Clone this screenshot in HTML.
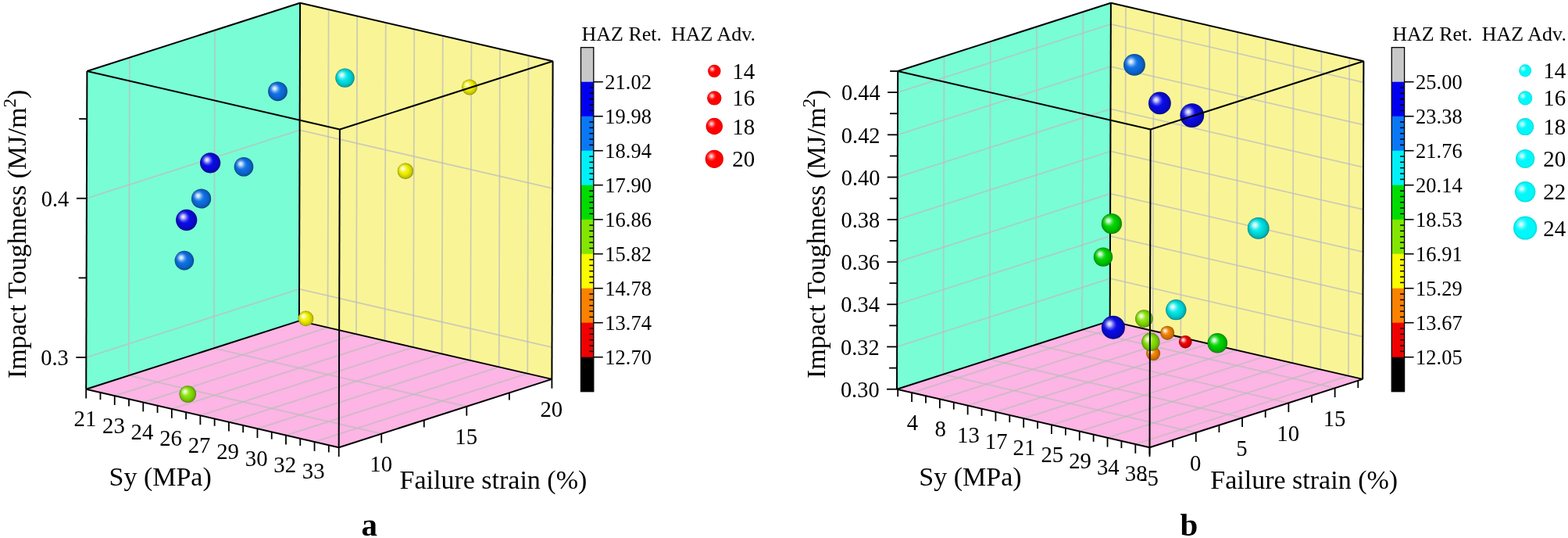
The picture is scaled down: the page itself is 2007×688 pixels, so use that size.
<!DOCTYPE html>
<html><head><meta charset="utf-8"><title>Figure</title>
<style>html,body{margin:0;padding:0;background:#fff;}svg{display:block;}</style>
</head><body>
<svg width="2007" height="688" viewBox="0 0 2007 688" font-family="'Liberation Serif','Times New Roman',serif"><defs><radialGradient id="g_blue" cx="0.5" cy="0.5" r="0.5" fx="0.34" fy="0.34"><stop offset="0" stop-color="#7878f2"/><stop offset="0.25" stop-color="#3636ec"/><stop offset="0.5" stop-color="#0a0ae8"/><stop offset="0.76" stop-color="#0909cc"/><stop offset="0.93" stop-color="#0707ac"/><stop offset="1" stop-color="#050574"/></radialGradient><radialGradient id="g_mblue" cx="0.5" cy="0.5" r="0.5" fx="0.34" fy="0.34"><stop offset="0" stop-color="#79b0f0"/><stop offset="0.25" stop-color="#388ae9"/><stop offset="0.5" stop-color="#0c70e4"/><stop offset="0.76" stop-color="#0b63c9"/><stop offset="0.93" stop-color="#0953a9"/><stop offset="1" stop-color="#063872"/></radialGradient><radialGradient id="g_cyan" cx="0.5" cy="0.5" r="0.5" fx="0.34" fy="0.34"><stop offset="0" stop-color="#73f0f1"/><stop offset="0.25" stop-color="#2ee9eb"/><stop offset="0.5" stop-color="#00e4e6"/><stop offset="0.76" stop-color="#00c9ca"/><stop offset="0.93" stop-color="#00a9aa"/><stop offset="1" stop-color="#007273"/></radialGradient><radialGradient id="g_green" cx="0.5" cy="0.5" r="0.5" fx="0.34" fy="0.34"><stop offset="0" stop-color="#73e773"/><stop offset="0.25" stop-color="#2edc2e"/><stop offset="0.5" stop-color="#00d400"/><stop offset="0.76" stop-color="#00bb00"/><stop offset="0.93" stop-color="#009d00"/><stop offset="1" stop-color="#006a00"/></radialGradient><radialGradient id="g_ygreen" cx="0.5" cy="0.5" r="0.5" fx="0.34" fy="0.34"><stop offset="0" stop-color="#bdef76"/><stop offset="0.25" stop-color="#9de732"/><stop offset="0.5" stop-color="#87e205"/><stop offset="0.76" stop-color="#77c704"/><stop offset="0.93" stop-color="#64a704"/><stop offset="1" stop-color="#447102"/></radialGradient><radialGradient id="g_yellow" cx="0.5" cy="0.5" r="0.5" fx="0.34" fy="0.34"><stop offset="0" stop-color="#f7f773"/><stop offset="0.25" stop-color="#f3f32e"/><stop offset="0.5" stop-color="#f0f000"/><stop offset="0.76" stop-color="#d3d300"/><stop offset="0.93" stop-color="#b2b200"/><stop offset="1" stop-color="#787800"/></radialGradient><radialGradient id="g_orange" cx="0.5" cy="0.5" r="0.5" fx="0.34" fy="0.34"><stop offset="0" stop-color="#f6b973"/><stop offset="0.25" stop-color="#f1972e"/><stop offset="0.5" stop-color="#ee8000"/><stop offset="0.76" stop-color="#d17100"/><stop offset="0.93" stop-color="#b05f00"/><stop offset="1" stop-color="#774000"/></radialGradient><radialGradient id="g_red" cx="0.5" cy="0.5" r="0.5" fx="0.34" fy="0.34"><stop offset="0" stop-color="#f77373"/><stop offset="0.25" stop-color="#f32e2e"/><stop offset="0.5" stop-color="#f00000"/><stop offset="0.76" stop-color="#d30000"/><stop offset="0.93" stop-color="#b20000"/><stop offset="1" stop-color="#780000"/></radialGradient><radialGradient id="g_lred" cx="0.5" cy="0.5" r="0.5"><stop offset="0" stop-color="#ff0000"/><stop offset="0.8" stop-color="#ff0000"/><stop offset="1" stop-color="#e00000"/></radialGradient><radialGradient id="g_lcyan" cx="0.5" cy="0.5" r="0.5"><stop offset="0" stop-color="#00f8fa"/><stop offset="0.8" stop-color="#00f8fa"/><stop offset="1" stop-color="#00dadc"/></radialGradient><radialGradient id="spec" cx="0.5" cy="0.5" r="0.5"><stop offset="0" stop-color="#fff" stop-opacity="0.92"/><stop offset="0.3" stop-color="#fff" stop-opacity="0.62"/><stop offset="0.65" stop-color="#fff" stop-opacity="0.2"/><stop offset="1" stop-color="#fff" stop-opacity="0"/></radialGradient></defs><rect width="2007" height="688" fill="#fff"/><polygon points="110.2,497.7 382.9,410.4 384.1,3.7 111.4,91" fill="#79fdd5"/>
<polygon points="382.9,410.4 706.4,484.9 707.6,78.2 384.1,3.7" fill="#f9f597"/>
<polygon points="110.2,497.7 382.9,410.4 706.4,484.9 433.7,572.2" fill="#fcb5e4"/>
<line x1="164.74" y1="480.24" x2="165.94" y2="73.54" stroke="#bcbcbc" stroke-width="1.8" stroke-linecap="butt" stroke-opacity="0.72"/>
<line x1="164.74" y1="480.24" x2="488.24" y2="554.74" stroke="#bcbcbc" stroke-width="1.8" stroke-linecap="butt" stroke-opacity="0.72"/>
<line x1="273.82" y1="445.32" x2="275.02" y2="38.62" stroke="#bcbcbc" stroke-width="1.8" stroke-linecap="butt" stroke-opacity="0.72"/>
<line x1="273.82" y1="445.32" x2="597.32" y2="519.82" stroke="#bcbcbc" stroke-width="1.8" stroke-linecap="butt" stroke-opacity="0.72"/>
<line x1="110.32" y1="457.03" x2="383.02" y2="369.73" stroke="#bcbcbc" stroke-width="1.8" stroke-linecap="butt" stroke-opacity="0.72"/>
<line x1="383.02" y1="369.73" x2="706.52" y2="444.23" stroke="#bcbcbc" stroke-width="1.8" stroke-linecap="butt" stroke-opacity="0.72"/>
<line x1="110.92" y1="253.68" x2="383.62" y2="166.38" stroke="#bcbcbc" stroke-width="1.8" stroke-linecap="butt" stroke-opacity="0.72"/>
<line x1="383.62" y1="166.38" x2="707.12" y2="240.88" stroke="#bcbcbc" stroke-width="1.8" stroke-linecap="butt" stroke-opacity="0.72"/>
<line x1="419.44" y1="418.82" x2="420.64" y2="12.12" stroke="#bcbcbc" stroke-width="1.8" stroke-linecap="butt" stroke-opacity="0.72"/>
<line x1="146.74" y1="506.12" x2="419.44" y2="418.82" stroke="#bcbcbc" stroke-width="1.8" stroke-linecap="butt" stroke-opacity="0.72"/>
<line x1="455.99" y1="427.23" x2="457.19" y2="20.53" stroke="#bcbcbc" stroke-width="1.8" stroke-linecap="butt" stroke-opacity="0.72"/>
<line x1="183.29" y1="514.53" x2="455.99" y2="427.23" stroke="#bcbcbc" stroke-width="1.8" stroke-linecap="butt" stroke-opacity="0.72"/>
<line x1="492.53" y1="435.65" x2="493.73" y2="28.95" stroke="#bcbcbc" stroke-width="1.8" stroke-linecap="butt" stroke-opacity="0.72"/>
<line x1="219.83" y1="522.95" x2="492.53" y2="435.65" stroke="#bcbcbc" stroke-width="1.8" stroke-linecap="butt" stroke-opacity="0.72"/>
<line x1="529.07" y1="444.06" x2="530.27" y2="37.36" stroke="#bcbcbc" stroke-width="1.8" stroke-linecap="butt" stroke-opacity="0.72"/>
<line x1="256.37" y1="531.36" x2="529.07" y2="444.06" stroke="#bcbcbc" stroke-width="1.8" stroke-linecap="butt" stroke-opacity="0.72"/>
<line x1="565.61" y1="452.48" x2="566.81" y2="45.78" stroke="#bcbcbc" stroke-width="1.8" stroke-linecap="butt" stroke-opacity="0.72"/>
<line x1="292.91" y1="539.78" x2="565.61" y2="452.48" stroke="#bcbcbc" stroke-width="1.8" stroke-linecap="butt" stroke-opacity="0.72"/>
<line x1="602.16" y1="460.89" x2="603.36" y2="54.19" stroke="#bcbcbc" stroke-width="1.8" stroke-linecap="butt" stroke-opacity="0.72"/>
<line x1="329.46" y1="548.19" x2="602.16" y2="460.89" stroke="#bcbcbc" stroke-width="1.8" stroke-linecap="butt" stroke-opacity="0.72"/>
<line x1="638.7" y1="469.31" x2="639.9" y2="62.61" stroke="#bcbcbc" stroke-width="1.8" stroke-linecap="butt" stroke-opacity="0.72"/>
<line x1="366" y1="556.61" x2="638.7" y2="469.31" stroke="#bcbcbc" stroke-width="1.8" stroke-linecap="butt" stroke-opacity="0.72"/>
<line x1="675.24" y1="477.72" x2="676.44" y2="71.02" stroke="#bcbcbc" stroke-width="1.8" stroke-linecap="butt" stroke-opacity="0.72"/>
<line x1="402.54" y1="565.02" x2="675.24" y2="477.72" stroke="#bcbcbc" stroke-width="1.8" stroke-linecap="butt" stroke-opacity="0.72"/>
<line x1="110.2" y1="497.7" x2="382.9" y2="410.4" stroke="#000" stroke-width="2" stroke-linecap="butt"/>
<line x1="382.9" y1="410.4" x2="706.4" y2="484.9" stroke="#000" stroke-width="2" stroke-linecap="butt"/>
<line x1="382.9" y1="410.4" x2="384.1" y2="3.7" stroke="#000" stroke-width="2" stroke-linecap="butt"/>
<line x1="111.4" y1="91" x2="384.1" y2="3.7" stroke="#000" stroke-width="2" stroke-linecap="butt"/>
<line x1="384.1" y1="3.7" x2="707.6" y2="78.2" stroke="#000" stroke-width="2" stroke-linecap="butt"/>
<line x1="706.4" y1="484.9" x2="707.6" y2="78.2" stroke="#000" stroke-width="2" stroke-linecap="butt"/>
<circle cx="355.5" cy="116.8" r="12.4" fill="url(#g_mblue)"/>
<circle cx="351.41" cy="113.08" r="7.19" fill="url(#spec)"/>
<circle cx="441.5" cy="99.6" r="12.2" fill="url(#g_cyan)"/>
<circle cx="437.47" cy="95.94" r="7.08" fill="url(#spec)"/>
<circle cx="601" cy="111.4" r="10" fill="url(#g_yellow)"/>
<circle cx="597.7" cy="108.4" r="5.8" fill="url(#spec)"/>
<circle cx="269.1" cy="208.3" r="13.1" fill="url(#g_blue)"/>
<circle cx="264.78" cy="204.37" r="7.6" fill="url(#spec)"/>
<circle cx="312" cy="213.2" r="12.3" fill="url(#g_mblue)"/>
<circle cx="307.94" cy="209.51" r="7.13" fill="url(#spec)"/>
<circle cx="519" cy="218.7" r="10.2" fill="url(#g_yellow)"/>
<circle cx="515.63" cy="215.64" r="5.92" fill="url(#spec)"/>
<circle cx="257.6" cy="254" r="12.6" fill="url(#g_mblue)"/>
<circle cx="253.44" cy="250.22" r="7.31" fill="url(#spec)"/>
<circle cx="238.7" cy="281.3" r="13.6" fill="url(#g_blue)"/>
<circle cx="234.21" cy="277.22" r="7.89" fill="url(#spec)"/>
<circle cx="235.9" cy="333.1" r="12.3" fill="url(#g_mblue)"/>
<circle cx="231.84" cy="329.41" r="7.13" fill="url(#spec)"/>
<circle cx="391.5" cy="407.4" r="9.8" fill="url(#g_yellow)"/>
<circle cx="388.27" cy="404.46" r="5.68" fill="url(#spec)"/>
<circle cx="240.3" cy="504" r="10.8" fill="url(#g_ygreen)"/>
<circle cx="236.74" cy="500.76" r="6.26" fill="url(#spec)"/>
<line x1="110.2" y1="497.7" x2="111.4" y2="91" stroke="#000" stroke-width="2" stroke-linecap="butt"/>
<line x1="111.4" y1="91" x2="434.9" y2="165.5" stroke="#000" stroke-width="2" stroke-linecap="butt"/>
<line x1="434.9" y1="165.5" x2="707.6" y2="78.2" stroke="#000" stroke-width="2" stroke-linecap="butt"/>
<line x1="433.7" y1="572.2" x2="434.9" y2="165.5" stroke="#000" stroke-width="2" stroke-linecap="butt"/>
<line x1="110.2" y1="497.7" x2="433.7" y2="572.2" stroke="#000" stroke-width="2" stroke-linecap="butt"/>
<line x1="433.7" y1="572.2" x2="706.4" y2="484.9" stroke="#000" stroke-width="2" stroke-linecap="butt"/>
<line x1="97.32" y1="457.03" x2="110.32" y2="457.03" stroke="#000" stroke-width="1.8" stroke-linecap="butt"/>
<text transform="translate(87.72,467.23) scale(1,1.07)" font-size="28.4" text-anchor="end">0.3</text>
<line x1="100.62" y1="355.36" x2="110.62" y2="355.36" stroke="#000" stroke-width="1.8" stroke-linecap="butt"/>
<line x1="97.92" y1="253.68" x2="110.92" y2="253.68" stroke="#000" stroke-width="1.8" stroke-linecap="butt"/>
<text transform="translate(88.32,263.88) scale(1,1.07)" font-size="28.4" text-anchor="end">0.4</text>
<line x1="101.22" y1="152" x2="111.22" y2="152" stroke="#000" stroke-width="1.8" stroke-linecap="butt"/>
<line x1="110.2" y1="497.7" x2="110.2" y2="509.5" stroke="#000" stroke-width="1.8" stroke-linecap="butt"/>
<text transform="translate(108.9,545.1) scale(1,1.05)" font-size="28.8" text-anchor="middle">21</text>
<line x1="128.47" y1="501.91" x2="128.47" y2="511.11" stroke="#000" stroke-width="1.8" stroke-linecap="butt"/>
<line x1="146.74" y1="506.12" x2="146.74" y2="517.92" stroke="#000" stroke-width="1.8" stroke-linecap="butt"/>
<text transform="translate(145.44,553.52) scale(1,1.05)" font-size="28.8" text-anchor="middle">23</text>
<line x1="165.01" y1="510.32" x2="165.01" y2="519.52" stroke="#000" stroke-width="1.8" stroke-linecap="butt"/>
<line x1="183.29" y1="514.53" x2="183.29" y2="526.33" stroke="#000" stroke-width="1.8" stroke-linecap="butt"/>
<text transform="translate(181.99,561.93) scale(1,1.05)" font-size="28.8" text-anchor="middle">24</text>
<line x1="201.56" y1="518.74" x2="201.56" y2="527.94" stroke="#000" stroke-width="1.8" stroke-linecap="butt"/>
<line x1="219.83" y1="522.95" x2="219.83" y2="534.75" stroke="#000" stroke-width="1.8" stroke-linecap="butt"/>
<text transform="translate(218.53,570.35) scale(1,1.05)" font-size="28.8" text-anchor="middle">26</text>
<line x1="238.1" y1="527.15" x2="238.1" y2="536.35" stroke="#000" stroke-width="1.8" stroke-linecap="butt"/>
<line x1="256.37" y1="531.36" x2="256.37" y2="543.16" stroke="#000" stroke-width="1.8" stroke-linecap="butt"/>
<text transform="translate(255.07,578.76) scale(1,1.05)" font-size="28.8" text-anchor="middle">27</text>
<line x1="274.64" y1="535.57" x2="274.64" y2="544.77" stroke="#000" stroke-width="1.8" stroke-linecap="butt"/>
<line x1="292.91" y1="539.78" x2="292.91" y2="551.58" stroke="#000" stroke-width="1.8" stroke-linecap="butt"/>
<text transform="translate(291.61,587.18) scale(1,1.05)" font-size="28.8" text-anchor="middle">29</text>
<line x1="311.18" y1="543.99" x2="311.18" y2="553.19" stroke="#000" stroke-width="1.8" stroke-linecap="butt"/>
<line x1="329.46" y1="548.19" x2="329.46" y2="559.99" stroke="#000" stroke-width="1.8" stroke-linecap="butt"/>
<text transform="translate(328.16,595.59) scale(1,1.05)" font-size="28.8" text-anchor="middle">30</text>
<line x1="347.73" y1="552.4" x2="347.73" y2="561.6" stroke="#000" stroke-width="1.8" stroke-linecap="butt"/>
<line x1="366" y1="556.61" x2="366" y2="568.41" stroke="#000" stroke-width="1.8" stroke-linecap="butt"/>
<text transform="translate(364.7,604.01) scale(1,1.05)" font-size="28.8" text-anchor="middle">32</text>
<line x1="384.27" y1="560.82" x2="384.27" y2="570.02" stroke="#000" stroke-width="1.8" stroke-linecap="butt"/>
<line x1="402.54" y1="565.02" x2="402.54" y2="576.82" stroke="#000" stroke-width="1.8" stroke-linecap="butt"/>
<text transform="translate(401.24,612.42) scale(1,1.05)" font-size="28.8" text-anchor="middle">33</text>
<line x1="420.81" y1="569.23" x2="420.81" y2="578.43" stroke="#000" stroke-width="1.8" stroke-linecap="butt"/>
<line x1="433.7" y1="572.2" x2="433.7" y2="584" stroke="#000" stroke-width="1.8" stroke-linecap="butt"/>
<line x1="488.24" y1="554.74" x2="488.24" y2="566.54" stroke="#000" stroke-width="1.8" stroke-linecap="butt"/>
<text transform="translate(487.64,603.14) scale(1,1.05)" font-size="28.8" text-anchor="middle">10</text>
<line x1="542.78" y1="537.28" x2="542.78" y2="546.48" stroke="#000" stroke-width="1.8" stroke-linecap="butt"/>
<line x1="597.32" y1="519.82" x2="597.32" y2="531.62" stroke="#000" stroke-width="1.8" stroke-linecap="butt"/>
<text transform="translate(596.72,568.22) scale(1,1.05)" font-size="28.8" text-anchor="middle">15</text>
<line x1="651.86" y1="502.36" x2="651.86" y2="511.56" stroke="#000" stroke-width="1.8" stroke-linecap="butt"/>
<line x1="706.4" y1="484.9" x2="706.4" y2="496.7" stroke="#000" stroke-width="1.8" stroke-linecap="butt"/>
<text transform="translate(705.8,533.3) scale(1,1.05)" font-size="28.8" text-anchor="middle">20</text>
<text transform="translate(33.3,484) rotate(-90)" font-size="34">Impact Toughness (MJ/m<tspan font-size="23" dy="-13">2</tspan><tspan dy="13">)</tspan></text>
<text x="139.5" y="621" font-size="34" text-anchor="start">Sy (MPa)</text>
<text x="511.5" y="624.7" font-size="34" text-anchor="start">Failure strain (%)</text>
<text x="462.5" y="685" font-size="41" text-anchor="start" font-weight="bold">a</text>
<rect x="743.5" y="60.7" width="16.3" height="44.3" fill="#c8c8c8"/>
<rect x="743.5" y="104.7" width="16.3" height="44.3" fill="#0000f0"/>
<rect x="743.5" y="148.7" width="16.3" height="44.3" fill="#0a78f5"/>
<rect x="743.5" y="192.7" width="16.3" height="44.3" fill="#00f0f8"/>
<rect x="743.5" y="236.7" width="16.3" height="44.3" fill="#00dc00"/>
<rect x="743.5" y="280.7" width="16.3" height="44.3" fill="#82e600"/>
<rect x="743.5" y="324.7" width="16.3" height="44.3" fill="#fafa00"/>
<rect x="743.5" y="368.7" width="16.3" height="44.3" fill="#fa8200"/>
<rect x="743.5" y="412.7" width="16.3" height="44.3" fill="#f00000"/>
<rect x="743.5" y="456.7" width="16.3" height="44.3" fill="#000000"/>
<rect x="743.5" y="60.7" width="16.3" height="440" fill="none" stroke="#000" stroke-width="1.3"/>
<line x1="759.8" y1="104.7" x2="771.8" y2="104.7" stroke="#000" stroke-width="1.6" stroke-linecap="butt"/>
<text x="774.3" y="113.7" font-size="26.5" text-anchor="start">21.02</text>
<line x1="754.3" y1="112.03" x2="759.8" y2="112.03" stroke="#000" stroke-width="1.5" stroke-linecap="butt"/>
<line x1="754.3" y1="119.37" x2="759.8" y2="119.37" stroke="#000" stroke-width="1.5" stroke-linecap="butt"/>
<line x1="754.3" y1="126.7" x2="759.8" y2="126.7" stroke="#000" stroke-width="1.5" stroke-linecap="butt"/>
<line x1="754.3" y1="134.03" x2="759.8" y2="134.03" stroke="#000" stroke-width="1.5" stroke-linecap="butt"/>
<line x1="754.3" y1="141.37" x2="759.8" y2="141.37" stroke="#000" stroke-width="1.5" stroke-linecap="butt"/>
<line x1="759.8" y1="148.7" x2="771.8" y2="148.7" stroke="#000" stroke-width="1.6" stroke-linecap="butt"/>
<text x="774.3" y="157.7" font-size="26.5" text-anchor="start">19.98</text>
<line x1="754.3" y1="156.03" x2="759.8" y2="156.03" stroke="#000" stroke-width="1.5" stroke-linecap="butt"/>
<line x1="754.3" y1="163.37" x2="759.8" y2="163.37" stroke="#000" stroke-width="1.5" stroke-linecap="butt"/>
<line x1="754.3" y1="170.7" x2="759.8" y2="170.7" stroke="#000" stroke-width="1.5" stroke-linecap="butt"/>
<line x1="754.3" y1="178.03" x2="759.8" y2="178.03" stroke="#000" stroke-width="1.5" stroke-linecap="butt"/>
<line x1="754.3" y1="185.37" x2="759.8" y2="185.37" stroke="#000" stroke-width="1.5" stroke-linecap="butt"/>
<line x1="759.8" y1="192.7" x2="771.8" y2="192.7" stroke="#000" stroke-width="1.6" stroke-linecap="butt"/>
<text x="774.3" y="201.7" font-size="26.5" text-anchor="start">18.94</text>
<line x1="754.3" y1="200.03" x2="759.8" y2="200.03" stroke="#000" stroke-width="1.5" stroke-linecap="butt"/>
<line x1="754.3" y1="207.37" x2="759.8" y2="207.37" stroke="#000" stroke-width="1.5" stroke-linecap="butt"/>
<line x1="754.3" y1="214.7" x2="759.8" y2="214.7" stroke="#000" stroke-width="1.5" stroke-linecap="butt"/>
<line x1="754.3" y1="222.03" x2="759.8" y2="222.03" stroke="#000" stroke-width="1.5" stroke-linecap="butt"/>
<line x1="754.3" y1="229.37" x2="759.8" y2="229.37" stroke="#000" stroke-width="1.5" stroke-linecap="butt"/>
<line x1="759.8" y1="236.7" x2="771.8" y2="236.7" stroke="#000" stroke-width="1.6" stroke-linecap="butt"/>
<text x="774.3" y="245.7" font-size="26.5" text-anchor="start">17.90</text>
<line x1="754.3" y1="244.03" x2="759.8" y2="244.03" stroke="#000" stroke-width="1.5" stroke-linecap="butt"/>
<line x1="754.3" y1="251.37" x2="759.8" y2="251.37" stroke="#000" stroke-width="1.5" stroke-linecap="butt"/>
<line x1="754.3" y1="258.7" x2="759.8" y2="258.7" stroke="#000" stroke-width="1.5" stroke-linecap="butt"/>
<line x1="754.3" y1="266.03" x2="759.8" y2="266.03" stroke="#000" stroke-width="1.5" stroke-linecap="butt"/>
<line x1="754.3" y1="273.37" x2="759.8" y2="273.37" stroke="#000" stroke-width="1.5" stroke-linecap="butt"/>
<line x1="759.8" y1="280.7" x2="771.8" y2="280.7" stroke="#000" stroke-width="1.6" stroke-linecap="butt"/>
<text x="774.3" y="289.7" font-size="26.5" text-anchor="start">16.86</text>
<line x1="754.3" y1="288.03" x2="759.8" y2="288.03" stroke="#000" stroke-width="1.5" stroke-linecap="butt"/>
<line x1="754.3" y1="295.37" x2="759.8" y2="295.37" stroke="#000" stroke-width="1.5" stroke-linecap="butt"/>
<line x1="754.3" y1="302.7" x2="759.8" y2="302.7" stroke="#000" stroke-width="1.5" stroke-linecap="butt"/>
<line x1="754.3" y1="310.03" x2="759.8" y2="310.03" stroke="#000" stroke-width="1.5" stroke-linecap="butt"/>
<line x1="754.3" y1="317.37" x2="759.8" y2="317.37" stroke="#000" stroke-width="1.5" stroke-linecap="butt"/>
<line x1="759.8" y1="324.7" x2="771.8" y2="324.7" stroke="#000" stroke-width="1.6" stroke-linecap="butt"/>
<text x="774.3" y="333.7" font-size="26.5" text-anchor="start">15.82</text>
<line x1="754.3" y1="332.03" x2="759.8" y2="332.03" stroke="#000" stroke-width="1.5" stroke-linecap="butt"/>
<line x1="754.3" y1="339.37" x2="759.8" y2="339.37" stroke="#000" stroke-width="1.5" stroke-linecap="butt"/>
<line x1="754.3" y1="346.7" x2="759.8" y2="346.7" stroke="#000" stroke-width="1.5" stroke-linecap="butt"/>
<line x1="754.3" y1="354.03" x2="759.8" y2="354.03" stroke="#000" stroke-width="1.5" stroke-linecap="butt"/>
<line x1="754.3" y1="361.37" x2="759.8" y2="361.37" stroke="#000" stroke-width="1.5" stroke-linecap="butt"/>
<line x1="759.8" y1="368.7" x2="771.8" y2="368.7" stroke="#000" stroke-width="1.6" stroke-linecap="butt"/>
<text x="774.3" y="377.7" font-size="26.5" text-anchor="start">14.78</text>
<line x1="754.3" y1="376.03" x2="759.8" y2="376.03" stroke="#000" stroke-width="1.5" stroke-linecap="butt"/>
<line x1="754.3" y1="383.37" x2="759.8" y2="383.37" stroke="#000" stroke-width="1.5" stroke-linecap="butt"/>
<line x1="754.3" y1="390.7" x2="759.8" y2="390.7" stroke="#000" stroke-width="1.5" stroke-linecap="butt"/>
<line x1="754.3" y1="398.03" x2="759.8" y2="398.03" stroke="#000" stroke-width="1.5" stroke-linecap="butt"/>
<line x1="754.3" y1="405.37" x2="759.8" y2="405.37" stroke="#000" stroke-width="1.5" stroke-linecap="butt"/>
<line x1="759.8" y1="412.7" x2="771.8" y2="412.7" stroke="#000" stroke-width="1.6" stroke-linecap="butt"/>
<text x="774.3" y="421.7" font-size="26.5" text-anchor="start">13.74</text>
<line x1="754.3" y1="420.03" x2="759.8" y2="420.03" stroke="#000" stroke-width="1.5" stroke-linecap="butt"/>
<line x1="754.3" y1="427.37" x2="759.8" y2="427.37" stroke="#000" stroke-width="1.5" stroke-linecap="butt"/>
<line x1="754.3" y1="434.7" x2="759.8" y2="434.7" stroke="#000" stroke-width="1.5" stroke-linecap="butt"/>
<line x1="754.3" y1="442.03" x2="759.8" y2="442.03" stroke="#000" stroke-width="1.5" stroke-linecap="butt"/>
<line x1="754.3" y1="449.37" x2="759.8" y2="449.37" stroke="#000" stroke-width="1.5" stroke-linecap="butt"/>
<line x1="759.8" y1="456.7" x2="771.8" y2="456.7" stroke="#000" stroke-width="1.6" stroke-linecap="butt"/>
<text x="774.3" y="465.7" font-size="26.5" text-anchor="start">12.70</text>
<text x="744.5" y="51.6" font-size="26" text-anchor="start">HAZ Ret.</text>
<text x="859" y="51.6" font-size="26" text-anchor="start">HAZ Adv.</text>
<circle cx="914.3" cy="90.9" r="8.2" fill="url(#g_lred)"/>
<circle cx="911.59" cy="88.44" r="4.76" fill="url(#spec)"/>
<text x="937.3" y="100.9" font-size="29" text-anchor="start">14</text>
<circle cx="914.3" cy="125.4" r="9.2" fill="url(#g_lred)"/>
<circle cx="911.26" cy="122.64" r="5.34" fill="url(#spec)"/>
<text x="937.3" y="135.4" font-size="29" text-anchor="start">16</text>
<circle cx="914.3" cy="161.5" r="10.7" fill="url(#g_lred)"/>
<circle cx="910.77" cy="158.29" r="6.21" fill="url(#spec)"/>
<text x="937.3" y="171.5" font-size="29" text-anchor="start">18</text>
<circle cx="914.3" cy="203.3" r="11.6" fill="url(#g_lred)"/>
<circle cx="910.47" cy="199.82" r="6.73" fill="url(#spec)"/>
<text x="937.3" y="213.3" font-size="29" text-anchor="start">20</text>
<polygon points="1148,497.7 1420.7,410.4 1421.9,3.7 1149.2,91" fill="#79fdd5"/>
<polygon points="1420.7,410.4 1744.2,484.9 1745.4,78.2 1421.9,3.7" fill="#f9f597"/>
<polygon points="1148,497.7 1420.7,410.4 1744.2,484.9 1471.5,572.2" fill="#fcb5e4"/>
<line x1="1207.28" y1="478.72" x2="1208.48" y2="72.02" stroke="#bcbcbc" stroke-width="1.8" stroke-linecap="butt" stroke-opacity="0.72"/>
<line x1="1207.28" y1="478.72" x2="1530.78" y2="553.22" stroke="#bcbcbc" stroke-width="1.8" stroke-linecap="butt" stroke-opacity="0.72"/>
<line x1="1266.57" y1="459.74" x2="1267.77" y2="53.04" stroke="#bcbcbc" stroke-width="1.8" stroke-linecap="butt" stroke-opacity="0.72"/>
<line x1="1266.57" y1="459.74" x2="1590.07" y2="534.24" stroke="#bcbcbc" stroke-width="1.8" stroke-linecap="butt" stroke-opacity="0.72"/>
<line x1="1325.85" y1="440.77" x2="1327.05" y2="34.07" stroke="#bcbcbc" stroke-width="1.8" stroke-linecap="butt" stroke-opacity="0.72"/>
<line x1="1325.85" y1="440.77" x2="1649.35" y2="515.27" stroke="#bcbcbc" stroke-width="1.8" stroke-linecap="butt" stroke-opacity="0.72"/>
<line x1="1385.13" y1="421.79" x2="1386.33" y2="15.09" stroke="#bcbcbc" stroke-width="1.8" stroke-linecap="butt" stroke-opacity="0.72"/>
<line x1="1385.13" y1="421.79" x2="1708.63" y2="496.29" stroke="#bcbcbc" stroke-width="1.8" stroke-linecap="butt" stroke-opacity="0.72"/>
<line x1="1148.16" y1="443.47" x2="1420.86" y2="356.17" stroke="#bcbcbc" stroke-width="1.8" stroke-linecap="butt" stroke-opacity="0.72"/>
<line x1="1420.86" y1="356.17" x2="1744.36" y2="430.67" stroke="#bcbcbc" stroke-width="1.8" stroke-linecap="butt" stroke-opacity="0.72"/>
<line x1="1148.32" y1="389.25" x2="1421.02" y2="301.95" stroke="#bcbcbc" stroke-width="1.8" stroke-linecap="butt" stroke-opacity="0.72"/>
<line x1="1421.02" y1="301.95" x2="1744.52" y2="376.45" stroke="#bcbcbc" stroke-width="1.8" stroke-linecap="butt" stroke-opacity="0.72"/>
<line x1="1148.48" y1="335.02" x2="1421.18" y2="247.72" stroke="#bcbcbc" stroke-width="1.8" stroke-linecap="butt" stroke-opacity="0.72"/>
<line x1="1421.18" y1="247.72" x2="1744.68" y2="322.22" stroke="#bcbcbc" stroke-width="1.8" stroke-linecap="butt" stroke-opacity="0.72"/>
<line x1="1148.64" y1="280.79" x2="1421.34" y2="193.49" stroke="#bcbcbc" stroke-width="1.8" stroke-linecap="butt" stroke-opacity="0.72"/>
<line x1="1421.34" y1="193.49" x2="1744.84" y2="267.99" stroke="#bcbcbc" stroke-width="1.8" stroke-linecap="butt" stroke-opacity="0.72"/>
<line x1="1148.8" y1="226.57" x2="1421.5" y2="139.27" stroke="#bcbcbc" stroke-width="1.8" stroke-linecap="butt" stroke-opacity="0.72"/>
<line x1="1421.5" y1="139.27" x2="1745" y2="213.77" stroke="#bcbcbc" stroke-width="1.8" stroke-linecap="butt" stroke-opacity="0.72"/>
<line x1="1148.96" y1="172.34" x2="1421.66" y2="85.04" stroke="#bcbcbc" stroke-width="1.8" stroke-linecap="butt" stroke-opacity="0.72"/>
<line x1="1421.66" y1="85.04" x2="1745.16" y2="159.54" stroke="#bcbcbc" stroke-width="1.8" stroke-linecap="butt" stroke-opacity="0.72"/>
<line x1="1149.12" y1="118.11" x2="1421.82" y2="30.81" stroke="#bcbcbc" stroke-width="1.8" stroke-linecap="butt" stroke-opacity="0.72"/>
<line x1="1421.82" y1="30.81" x2="1745.32" y2="105.31" stroke="#bcbcbc" stroke-width="1.8" stroke-linecap="butt" stroke-opacity="0.72"/>
<line x1="1439.79" y1="414.8" x2="1440.99" y2="8.1" stroke="#bcbcbc" stroke-width="1.8" stroke-linecap="butt" stroke-opacity="0.72"/>
<line x1="1167.09" y1="502.1" x2="1439.79" y2="414.8" stroke="#bcbcbc" stroke-width="1.8" stroke-linecap="butt" stroke-opacity="0.72"/>
<line x1="1475.57" y1="423.04" x2="1476.77" y2="16.34" stroke="#bcbcbc" stroke-width="1.8" stroke-linecap="butt" stroke-opacity="0.72"/>
<line x1="1202.87" y1="510.34" x2="1475.57" y2="423.04" stroke="#bcbcbc" stroke-width="1.8" stroke-linecap="butt" stroke-opacity="0.72"/>
<line x1="1511.34" y1="431.27" x2="1512.54" y2="24.57" stroke="#bcbcbc" stroke-width="1.8" stroke-linecap="butt" stroke-opacity="0.72"/>
<line x1="1238.64" y1="518.57" x2="1511.34" y2="431.27" stroke="#bcbcbc" stroke-width="1.8" stroke-linecap="butt" stroke-opacity="0.72"/>
<line x1="1547.12" y1="439.51" x2="1548.32" y2="32.81" stroke="#bcbcbc" stroke-width="1.8" stroke-linecap="butt" stroke-opacity="0.72"/>
<line x1="1274.42" y1="526.81" x2="1547.12" y2="439.51" stroke="#bcbcbc" stroke-width="1.8" stroke-linecap="butt" stroke-opacity="0.72"/>
<line x1="1582.9" y1="447.75" x2="1584.1" y2="41.05" stroke="#bcbcbc" stroke-width="1.8" stroke-linecap="butt" stroke-opacity="0.72"/>
<line x1="1310.2" y1="535.05" x2="1582.9" y2="447.75" stroke="#bcbcbc" stroke-width="1.8" stroke-linecap="butt" stroke-opacity="0.72"/>
<line x1="1618.68" y1="455.99" x2="1619.88" y2="49.29" stroke="#bcbcbc" stroke-width="1.8" stroke-linecap="butt" stroke-opacity="0.72"/>
<line x1="1345.98" y1="543.29" x2="1618.68" y2="455.99" stroke="#bcbcbc" stroke-width="1.8" stroke-linecap="butt" stroke-opacity="0.72"/>
<line x1="1654.46" y1="464.23" x2="1655.66" y2="57.53" stroke="#bcbcbc" stroke-width="1.8" stroke-linecap="butt" stroke-opacity="0.72"/>
<line x1="1381.76" y1="551.53" x2="1654.46" y2="464.23" stroke="#bcbcbc" stroke-width="1.8" stroke-linecap="butt" stroke-opacity="0.72"/>
<line x1="1690.24" y1="472.47" x2="1691.44" y2="65.77" stroke="#bcbcbc" stroke-width="1.8" stroke-linecap="butt" stroke-opacity="0.72"/>
<line x1="1417.54" y1="559.77" x2="1690.24" y2="472.47" stroke="#bcbcbc" stroke-width="1.8" stroke-linecap="butt" stroke-opacity="0.72"/>
<line x1="1726.02" y1="480.71" x2="1727.22" y2="74.01" stroke="#bcbcbc" stroke-width="1.8" stroke-linecap="butt" stroke-opacity="0.72"/>
<line x1="1453.32" y1="568.01" x2="1726.02" y2="480.71" stroke="#bcbcbc" stroke-width="1.8" stroke-linecap="butt" stroke-opacity="0.72"/>
<line x1="1148" y1="497.7" x2="1420.7" y2="410.4" stroke="#000" stroke-width="2" stroke-linecap="butt"/>
<line x1="1420.7" y1="410.4" x2="1744.2" y2="484.9" stroke="#000" stroke-width="2" stroke-linecap="butt"/>
<line x1="1420.7" y1="410.4" x2="1421.9" y2="3.7" stroke="#000" stroke-width="2" stroke-linecap="butt"/>
<line x1="1149.2" y1="91" x2="1421.9" y2="3.7" stroke="#000" stroke-width="2" stroke-linecap="butt"/>
<line x1="1421.9" y1="3.7" x2="1745.4" y2="78.2" stroke="#000" stroke-width="2" stroke-linecap="butt"/>
<line x1="1744.2" y1="484.9" x2="1745.4" y2="78.2" stroke="#000" stroke-width="2" stroke-linecap="butt"/>
<circle cx="1452" cy="82.9" r="13.9" fill="url(#g_mblue)"/>
<circle cx="1447.41" cy="78.73" r="8.06" fill="url(#spec)"/>
<circle cx="1484.4" cy="131.9" r="14.4" fill="url(#g_blue)"/>
<circle cx="1479.65" cy="127.58" r="8.35" fill="url(#spec)"/>
<circle cx="1525.8" cy="147.6" r="15.4" fill="url(#g_blue)"/>
<circle cx="1520.72" cy="142.98" r="8.93" fill="url(#spec)"/>
<circle cx="1422.9" cy="286.1" r="13.1" fill="url(#g_green)"/>
<circle cx="1418.58" cy="282.17" r="7.6" fill="url(#spec)"/>
<circle cx="1412" cy="328.6" r="12.2" fill="url(#g_green)"/>
<circle cx="1407.97" cy="324.94" r="7.08" fill="url(#spec)"/>
<circle cx="1610.7" cy="291.9" r="13.9" fill="url(#g_cyan)"/>
<circle cx="1606.11" cy="287.73" r="8.06" fill="url(#spec)"/>
<circle cx="1505.3" cy="396.2" r="13.1" fill="url(#g_cyan)"/>
<circle cx="1500.98" cy="392.27" r="7.6" fill="url(#spec)"/>
<circle cx="1464.4" cy="407.5" r="11.3" fill="url(#g_ygreen)"/>
<circle cx="1460.67" cy="404.11" r="6.55" fill="url(#spec)"/>
<circle cx="1424.9" cy="418.7" r="15" fill="url(#g_blue)"/>
<circle cx="1419.95" cy="414.2" r="8.7" fill="url(#spec)"/>
<circle cx="1494.2" cy="425.7" r="9" fill="url(#g_orange)"/>
<circle cx="1491.23" cy="423" r="5.22" fill="url(#spec)"/>
<circle cx="1517.2" cy="437.2" r="8.3" fill="url(#g_red)"/>
<circle cx="1514.46" cy="434.71" r="4.81" fill="url(#spec)"/>
<circle cx="1558.3" cy="438.8" r="12.8" fill="url(#g_green)"/>
<circle cx="1554.08" cy="434.96" r="7.42" fill="url(#spec)"/>
<circle cx="1476.1" cy="452.1" r="9" fill="url(#g_orange)"/>
<circle cx="1473.13" cy="449.4" r="5.22" fill="url(#spec)"/>
<circle cx="1472.9" cy="437.2" r="11.6" fill="url(#g_ygreen)"/>
<circle cx="1469.07" cy="433.72" r="6.73" fill="url(#spec)"/>
<line x1="1148" y1="497.7" x2="1149.2" y2="91" stroke="#000" stroke-width="2" stroke-linecap="butt"/>
<line x1="1149.2" y1="91" x2="1472.7" y2="165.5" stroke="#000" stroke-width="2" stroke-linecap="butt"/>
<line x1="1472.7" y1="165.5" x2="1745.4" y2="78.2" stroke="#000" stroke-width="2" stroke-linecap="butt"/>
<line x1="1471.5" y1="572.2" x2="1472.7" y2="165.5" stroke="#000" stroke-width="2" stroke-linecap="butt"/>
<line x1="1148" y1="497.7" x2="1471.5" y2="572.2" stroke="#000" stroke-width="2" stroke-linecap="butt"/>
<line x1="1471.5" y1="572.2" x2="1744.2" y2="484.9" stroke="#000" stroke-width="2" stroke-linecap="butt"/>
<line x1="1135" y1="497.7" x2="1148" y2="497.7" stroke="#000" stroke-width="1.8" stroke-linecap="butt"/>
<text transform="translate(1125.6,507.9) scale(1,1.07)" font-size="28.4" text-anchor="end">0.30</text>
<line x1="1138.08" y1="470.59" x2="1148.08" y2="470.59" stroke="#000" stroke-width="1.8" stroke-linecap="butt"/>
<line x1="1135.16" y1="443.47" x2="1148.16" y2="443.47" stroke="#000" stroke-width="1.8" stroke-linecap="butt"/>
<text transform="translate(1125.76,453.67) scale(1,1.07)" font-size="28.4" text-anchor="end">0.32</text>
<line x1="1138.24" y1="416.36" x2="1148.24" y2="416.36" stroke="#000" stroke-width="1.8" stroke-linecap="butt"/>
<line x1="1135.32" y1="389.25" x2="1148.32" y2="389.25" stroke="#000" stroke-width="1.8" stroke-linecap="butt"/>
<text transform="translate(1125.92,399.45) scale(1,1.07)" font-size="28.4" text-anchor="end">0.34</text>
<line x1="1138.4" y1="362.13" x2="1148.4" y2="362.13" stroke="#000" stroke-width="1.8" stroke-linecap="butt"/>
<line x1="1135.48" y1="335.02" x2="1148.48" y2="335.02" stroke="#000" stroke-width="1.8" stroke-linecap="butt"/>
<text transform="translate(1126.08,345.22) scale(1,1.07)" font-size="28.4" text-anchor="end">0.36</text>
<line x1="1138.56" y1="307.91" x2="1148.56" y2="307.91" stroke="#000" stroke-width="1.8" stroke-linecap="butt"/>
<line x1="1135.64" y1="280.79" x2="1148.64" y2="280.79" stroke="#000" stroke-width="1.8" stroke-linecap="butt"/>
<text transform="translate(1126.24,290.99) scale(1,1.07)" font-size="28.4" text-anchor="end">0.38</text>
<line x1="1138.72" y1="253.68" x2="1148.72" y2="253.68" stroke="#000" stroke-width="1.8" stroke-linecap="butt"/>
<line x1="1135.8" y1="226.57" x2="1148.8" y2="226.57" stroke="#000" stroke-width="1.8" stroke-linecap="butt"/>
<text transform="translate(1126.4,236.77) scale(1,1.07)" font-size="28.4" text-anchor="end">0.40</text>
<line x1="1138.88" y1="199.45" x2="1148.88" y2="199.45" stroke="#000" stroke-width="1.8" stroke-linecap="butt"/>
<line x1="1135.96" y1="172.34" x2="1148.96" y2="172.34" stroke="#000" stroke-width="1.8" stroke-linecap="butt"/>
<text transform="translate(1126.56,182.54) scale(1,1.07)" font-size="28.4" text-anchor="end">0.42</text>
<line x1="1139.04" y1="145.23" x2="1149.04" y2="145.23" stroke="#000" stroke-width="1.8" stroke-linecap="butt"/>
<line x1="1136.12" y1="118.11" x2="1149.12" y2="118.11" stroke="#000" stroke-width="1.8" stroke-linecap="butt"/>
<text transform="translate(1126.72,128.31) scale(1,1.07)" font-size="28.4" text-anchor="end">0.44</text>
<line x1="1139.2" y1="91" x2="1149.2" y2="91" stroke="#000" stroke-width="1.8" stroke-linecap="butt"/>
<line x1="1149.2" y1="497.98" x2="1149.2" y2="507.18" stroke="#000" stroke-width="1.8" stroke-linecap="butt"/>
<line x1="1167.09" y1="502.1" x2="1167.09" y2="513.9" stroke="#000" stroke-width="1.8" stroke-linecap="butt"/>
<text transform="translate(1167.89,549.5) scale(1,1.05)" font-size="28.8" text-anchor="middle">4</text>
<line x1="1184.98" y1="506.22" x2="1184.98" y2="515.42" stroke="#000" stroke-width="1.8" stroke-linecap="butt"/>
<line x1="1202.87" y1="510.34" x2="1202.87" y2="522.14" stroke="#000" stroke-width="1.8" stroke-linecap="butt"/>
<text transform="translate(1203.67,557.74) scale(1,1.05)" font-size="28.8" text-anchor="middle">8</text>
<line x1="1220.76" y1="514.46" x2="1220.76" y2="523.66" stroke="#000" stroke-width="1.8" stroke-linecap="butt"/>
<line x1="1238.64" y1="518.57" x2="1238.64" y2="530.37" stroke="#000" stroke-width="1.8" stroke-linecap="butt"/>
<text transform="translate(1239.44,565.97) scale(1,1.05)" font-size="28.8" text-anchor="middle">13</text>
<line x1="1256.53" y1="522.69" x2="1256.53" y2="531.89" stroke="#000" stroke-width="1.8" stroke-linecap="butt"/>
<line x1="1274.42" y1="526.81" x2="1274.42" y2="538.61" stroke="#000" stroke-width="1.8" stroke-linecap="butt"/>
<text transform="translate(1275.22,574.21) scale(1,1.05)" font-size="28.8" text-anchor="middle">17</text>
<line x1="1292.31" y1="530.93" x2="1292.31" y2="540.13" stroke="#000" stroke-width="1.8" stroke-linecap="butt"/>
<line x1="1310.2" y1="535.05" x2="1310.2" y2="546.85" stroke="#000" stroke-width="1.8" stroke-linecap="butt"/>
<text transform="translate(1311,582.45) scale(1,1.05)" font-size="28.8" text-anchor="middle">21</text>
<line x1="1328.09" y1="539.17" x2="1328.09" y2="548.37" stroke="#000" stroke-width="1.8" stroke-linecap="butt"/>
<line x1="1345.98" y1="543.29" x2="1345.98" y2="555.09" stroke="#000" stroke-width="1.8" stroke-linecap="butt"/>
<text transform="translate(1346.78,590.69) scale(1,1.05)" font-size="28.8" text-anchor="middle">25</text>
<line x1="1363.87" y1="547.41" x2="1363.87" y2="556.61" stroke="#000" stroke-width="1.8" stroke-linecap="butt"/>
<line x1="1381.76" y1="551.53" x2="1381.76" y2="563.33" stroke="#000" stroke-width="1.8" stroke-linecap="butt"/>
<text transform="translate(1382.56,598.93) scale(1,1.05)" font-size="28.8" text-anchor="middle">29</text>
<line x1="1399.65" y1="555.65" x2="1399.65" y2="564.85" stroke="#000" stroke-width="1.8" stroke-linecap="butt"/>
<line x1="1417.54" y1="559.77" x2="1417.54" y2="571.57" stroke="#000" stroke-width="1.8" stroke-linecap="butt"/>
<text transform="translate(1418.34,607.17) scale(1,1.05)" font-size="28.8" text-anchor="middle">34</text>
<line x1="1435.43" y1="563.89" x2="1435.43" y2="573.09" stroke="#000" stroke-width="1.8" stroke-linecap="butt"/>
<line x1="1453.32" y1="568.01" x2="1453.32" y2="579.81" stroke="#000" stroke-width="1.8" stroke-linecap="butt"/>
<text transform="translate(1454.12,615.41) scale(1,1.05)" font-size="28.8" text-anchor="middle">38</text>
<line x1="1471.5" y1="572.2" x2="1471.5" y2="581.4" stroke="#000" stroke-width="1.8" stroke-linecap="butt"/>
<line x1="1471.5" y1="572.2" x2="1471.5" y2="584" stroke="#000" stroke-width="1.8" stroke-linecap="butt"/>
<text transform="translate(1470.9,620.6) scale(1,1.05)" font-size="28.8" text-anchor="middle">-5</text>
<line x1="1501.14" y1="562.71" x2="1501.14" y2="571.91" stroke="#000" stroke-width="1.8" stroke-linecap="butt"/>
<line x1="1530.78" y1="553.22" x2="1530.78" y2="565.02" stroke="#000" stroke-width="1.8" stroke-linecap="butt"/>
<text transform="translate(1530.18,601.62) scale(1,1.05)" font-size="28.8" text-anchor="middle">0</text>
<line x1="1560.43" y1="543.73" x2="1560.43" y2="552.93" stroke="#000" stroke-width="1.8" stroke-linecap="butt"/>
<line x1="1590.07" y1="534.24" x2="1590.07" y2="546.04" stroke="#000" stroke-width="1.8" stroke-linecap="butt"/>
<text transform="translate(1589.47,582.64) scale(1,1.05)" font-size="28.8" text-anchor="middle">5</text>
<line x1="1619.71" y1="524.75" x2="1619.71" y2="533.95" stroke="#000" stroke-width="1.8" stroke-linecap="butt"/>
<line x1="1649.35" y1="515.26" x2="1649.35" y2="527.06" stroke="#000" stroke-width="1.8" stroke-linecap="butt"/>
<text transform="translate(1648.75,563.66) scale(1,1.05)" font-size="28.8" text-anchor="middle">10</text>
<line x1="1679" y1="505.77" x2="1679" y2="514.97" stroke="#000" stroke-width="1.8" stroke-linecap="butt"/>
<line x1="1708.64" y1="496.28" x2="1708.64" y2="508.08" stroke="#000" stroke-width="1.8" stroke-linecap="butt"/>
<text transform="translate(1708.04,544.68) scale(1,1.05)" font-size="28.8" text-anchor="middle">15</text>
<line x1="1738.28" y1="486.79" x2="1738.28" y2="495.99" stroke="#000" stroke-width="1.8" stroke-linecap="butt"/>
<text transform="translate(1056.4,484) rotate(-90)" font-size="34">Impact Toughness (MJ/m<tspan font-size="23" dy="-13">2</tspan><tspan dy="13">)</tspan></text>
<text x="1176.3" y="621" font-size="34" text-anchor="start">Sy (MPa)</text>
<text x="1549.3" y="624.7" font-size="34" text-anchor="start">Failure strain (%)</text>
<text x="1510.5" y="685" font-size="41" text-anchor="start" font-weight="bold">b</text>
<rect x="1781.3" y="60.7" width="16.3" height="44.3" fill="#c8c8c8"/>
<rect x="1781.3" y="104.7" width="16.3" height="44.3" fill="#0000f0"/>
<rect x="1781.3" y="148.7" width="16.3" height="44.3" fill="#0a78f5"/>
<rect x="1781.3" y="192.7" width="16.3" height="44.3" fill="#00f0f8"/>
<rect x="1781.3" y="236.7" width="16.3" height="44.3" fill="#00dc00"/>
<rect x="1781.3" y="280.7" width="16.3" height="44.3" fill="#82e600"/>
<rect x="1781.3" y="324.7" width="16.3" height="44.3" fill="#fafa00"/>
<rect x="1781.3" y="368.7" width="16.3" height="44.3" fill="#fa8200"/>
<rect x="1781.3" y="412.7" width="16.3" height="44.3" fill="#f00000"/>
<rect x="1781.3" y="456.7" width="16.3" height="44.3" fill="#000000"/>
<rect x="1781.3" y="60.7" width="16.3" height="440" fill="none" stroke="#000" stroke-width="1.3"/>
<line x1="1797.6" y1="104.7" x2="1809.6" y2="104.7" stroke="#000" stroke-width="1.6" stroke-linecap="butt"/>
<text x="1812.1" y="113.7" font-size="26.5" text-anchor="start">25.00</text>
<line x1="1792.1" y1="112.03" x2="1797.6" y2="112.03" stroke="#000" stroke-width="1.5" stroke-linecap="butt"/>
<line x1="1792.1" y1="119.37" x2="1797.6" y2="119.37" stroke="#000" stroke-width="1.5" stroke-linecap="butt"/>
<line x1="1792.1" y1="126.7" x2="1797.6" y2="126.7" stroke="#000" stroke-width="1.5" stroke-linecap="butt"/>
<line x1="1792.1" y1="134.03" x2="1797.6" y2="134.03" stroke="#000" stroke-width="1.5" stroke-linecap="butt"/>
<line x1="1792.1" y1="141.37" x2="1797.6" y2="141.37" stroke="#000" stroke-width="1.5" stroke-linecap="butt"/>
<line x1="1797.6" y1="148.7" x2="1809.6" y2="148.7" stroke="#000" stroke-width="1.6" stroke-linecap="butt"/>
<text x="1812.1" y="157.7" font-size="26.5" text-anchor="start">23.38</text>
<line x1="1792.1" y1="156.03" x2="1797.6" y2="156.03" stroke="#000" stroke-width="1.5" stroke-linecap="butt"/>
<line x1="1792.1" y1="163.37" x2="1797.6" y2="163.37" stroke="#000" stroke-width="1.5" stroke-linecap="butt"/>
<line x1="1792.1" y1="170.7" x2="1797.6" y2="170.7" stroke="#000" stroke-width="1.5" stroke-linecap="butt"/>
<line x1="1792.1" y1="178.03" x2="1797.6" y2="178.03" stroke="#000" stroke-width="1.5" stroke-linecap="butt"/>
<line x1="1792.1" y1="185.37" x2="1797.6" y2="185.37" stroke="#000" stroke-width="1.5" stroke-linecap="butt"/>
<line x1="1797.6" y1="192.7" x2="1809.6" y2="192.7" stroke="#000" stroke-width="1.6" stroke-linecap="butt"/>
<text x="1812.1" y="201.7" font-size="26.5" text-anchor="start">21.76</text>
<line x1="1792.1" y1="200.03" x2="1797.6" y2="200.03" stroke="#000" stroke-width="1.5" stroke-linecap="butt"/>
<line x1="1792.1" y1="207.37" x2="1797.6" y2="207.37" stroke="#000" stroke-width="1.5" stroke-linecap="butt"/>
<line x1="1792.1" y1="214.7" x2="1797.6" y2="214.7" stroke="#000" stroke-width="1.5" stroke-linecap="butt"/>
<line x1="1792.1" y1="222.03" x2="1797.6" y2="222.03" stroke="#000" stroke-width="1.5" stroke-linecap="butt"/>
<line x1="1792.1" y1="229.37" x2="1797.6" y2="229.37" stroke="#000" stroke-width="1.5" stroke-linecap="butt"/>
<line x1="1797.6" y1="236.7" x2="1809.6" y2="236.7" stroke="#000" stroke-width="1.6" stroke-linecap="butt"/>
<text x="1812.1" y="245.7" font-size="26.5" text-anchor="start">20.14</text>
<line x1="1792.1" y1="244.03" x2="1797.6" y2="244.03" stroke="#000" stroke-width="1.5" stroke-linecap="butt"/>
<line x1="1792.1" y1="251.37" x2="1797.6" y2="251.37" stroke="#000" stroke-width="1.5" stroke-linecap="butt"/>
<line x1="1792.1" y1="258.7" x2="1797.6" y2="258.7" stroke="#000" stroke-width="1.5" stroke-linecap="butt"/>
<line x1="1792.1" y1="266.03" x2="1797.6" y2="266.03" stroke="#000" stroke-width="1.5" stroke-linecap="butt"/>
<line x1="1792.1" y1="273.37" x2="1797.6" y2="273.37" stroke="#000" stroke-width="1.5" stroke-linecap="butt"/>
<line x1="1797.6" y1="280.7" x2="1809.6" y2="280.7" stroke="#000" stroke-width="1.6" stroke-linecap="butt"/>
<text x="1812.1" y="289.7" font-size="26.5" text-anchor="start">18.53</text>
<line x1="1792.1" y1="288.03" x2="1797.6" y2="288.03" stroke="#000" stroke-width="1.5" stroke-linecap="butt"/>
<line x1="1792.1" y1="295.37" x2="1797.6" y2="295.37" stroke="#000" stroke-width="1.5" stroke-linecap="butt"/>
<line x1="1792.1" y1="302.7" x2="1797.6" y2="302.7" stroke="#000" stroke-width="1.5" stroke-linecap="butt"/>
<line x1="1792.1" y1="310.03" x2="1797.6" y2="310.03" stroke="#000" stroke-width="1.5" stroke-linecap="butt"/>
<line x1="1792.1" y1="317.37" x2="1797.6" y2="317.37" stroke="#000" stroke-width="1.5" stroke-linecap="butt"/>
<line x1="1797.6" y1="324.7" x2="1809.6" y2="324.7" stroke="#000" stroke-width="1.6" stroke-linecap="butt"/>
<text x="1812.1" y="333.7" font-size="26.5" text-anchor="start">16.91</text>
<line x1="1792.1" y1="332.03" x2="1797.6" y2="332.03" stroke="#000" stroke-width="1.5" stroke-linecap="butt"/>
<line x1="1792.1" y1="339.37" x2="1797.6" y2="339.37" stroke="#000" stroke-width="1.5" stroke-linecap="butt"/>
<line x1="1792.1" y1="346.7" x2="1797.6" y2="346.7" stroke="#000" stroke-width="1.5" stroke-linecap="butt"/>
<line x1="1792.1" y1="354.03" x2="1797.6" y2="354.03" stroke="#000" stroke-width="1.5" stroke-linecap="butt"/>
<line x1="1792.1" y1="361.37" x2="1797.6" y2="361.37" stroke="#000" stroke-width="1.5" stroke-linecap="butt"/>
<line x1="1797.6" y1="368.7" x2="1809.6" y2="368.7" stroke="#000" stroke-width="1.6" stroke-linecap="butt"/>
<text x="1812.1" y="377.7" font-size="26.5" text-anchor="start">15.29</text>
<line x1="1792.1" y1="376.03" x2="1797.6" y2="376.03" stroke="#000" stroke-width="1.5" stroke-linecap="butt"/>
<line x1="1792.1" y1="383.37" x2="1797.6" y2="383.37" stroke="#000" stroke-width="1.5" stroke-linecap="butt"/>
<line x1="1792.1" y1="390.7" x2="1797.6" y2="390.7" stroke="#000" stroke-width="1.5" stroke-linecap="butt"/>
<line x1="1792.1" y1="398.03" x2="1797.6" y2="398.03" stroke="#000" stroke-width="1.5" stroke-linecap="butt"/>
<line x1="1792.1" y1="405.37" x2="1797.6" y2="405.37" stroke="#000" stroke-width="1.5" stroke-linecap="butt"/>
<line x1="1797.6" y1="412.7" x2="1809.6" y2="412.7" stroke="#000" stroke-width="1.6" stroke-linecap="butt"/>
<text x="1812.1" y="421.7" font-size="26.5" text-anchor="start">13.67</text>
<line x1="1792.1" y1="420.03" x2="1797.6" y2="420.03" stroke="#000" stroke-width="1.5" stroke-linecap="butt"/>
<line x1="1792.1" y1="427.37" x2="1797.6" y2="427.37" stroke="#000" stroke-width="1.5" stroke-linecap="butt"/>
<line x1="1792.1" y1="434.7" x2="1797.6" y2="434.7" stroke="#000" stroke-width="1.5" stroke-linecap="butt"/>
<line x1="1792.1" y1="442.03" x2="1797.6" y2="442.03" stroke="#000" stroke-width="1.5" stroke-linecap="butt"/>
<line x1="1792.1" y1="449.37" x2="1797.6" y2="449.37" stroke="#000" stroke-width="1.5" stroke-linecap="butt"/>
<line x1="1797.6" y1="456.7" x2="1809.6" y2="456.7" stroke="#000" stroke-width="1.6" stroke-linecap="butt"/>
<text x="1812.1" y="465.7" font-size="26.5" text-anchor="start">12.05</text>
<text x="1782.3" y="51.6" font-size="26" text-anchor="start">HAZ Ret.</text>
<text x="1896.8" y="51.6" font-size="26" text-anchor="start">HAZ Adv.</text>
<circle cx="1952.2" cy="90.3" r="8" fill="url(#g_lcyan)"/>
<circle cx="1949.56" cy="87.9" r="4.64" fill="url(#spec)"/>
<text x="1975.2" y="100.3" font-size="29" text-anchor="start">14</text>
<circle cx="1952.2" cy="125.4" r="9.1" fill="url(#g_lcyan)"/>
<circle cx="1949.2" cy="122.67" r="5.28" fill="url(#spec)"/>
<text x="1975.2" y="135.4" font-size="29" text-anchor="start">16</text>
<circle cx="1952.2" cy="162.1" r="11" fill="url(#g_lcyan)"/>
<circle cx="1948.57" cy="158.8" r="6.38" fill="url(#spec)"/>
<text x="1975.2" y="172.1" font-size="29" text-anchor="start">18</text>
<circle cx="1952.2" cy="203" r="12.1" fill="url(#g_lcyan)"/>
<circle cx="1948.21" cy="199.37" r="7.02" fill="url(#spec)"/>
<text x="1975.2" y="213" font-size="29" text-anchor="start">20</text>
<circle cx="1952.2" cy="245.3" r="13.2" fill="url(#g_lcyan)"/>
<circle cx="1947.84" cy="241.34" r="7.66" fill="url(#spec)"/>
<text x="1975.2" y="255.3" font-size="29" text-anchor="start">22</text>
<circle cx="1952.2" cy="291.5" r="15.1" fill="url(#g_lcyan)"/>
<circle cx="1947.22" cy="286.97" r="8.76" fill="url(#spec)"/>
<text x="1975.2" y="301.5" font-size="29" text-anchor="start">24</text></svg>
</body></html>
